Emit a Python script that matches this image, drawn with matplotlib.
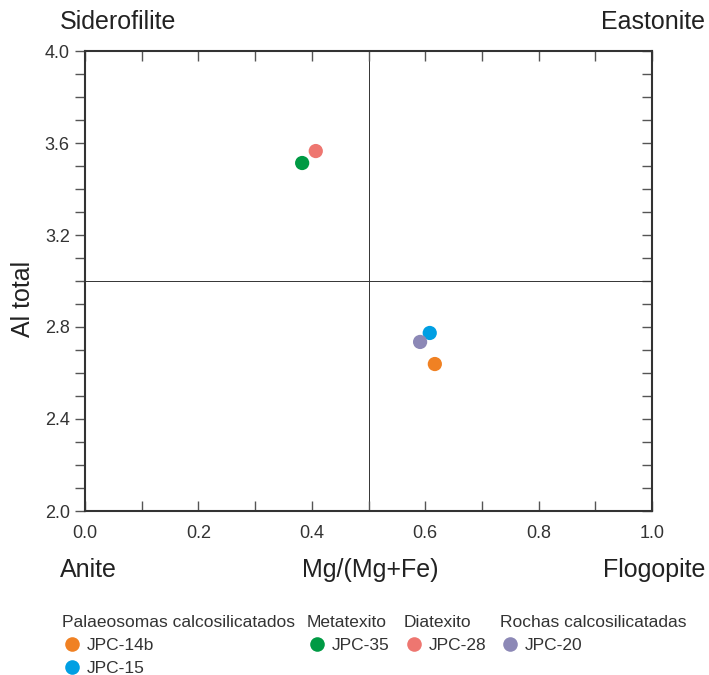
import matplotlib
matplotlib.use("Agg")
import matplotlib.pyplot as plt
from matplotlib.lines import Line2D
from matplotlib.ticker import MultipleLocator

plt.rcParams['font.family'] = ['Liberation Sans', 'DejaVu Sans']

## data
samples = ['JPC-14b', 'JPC-15', 'JPC-35', 'JPC-28', 'JPC-20']
groups = ['Palaeosomas calcosilicatados', 'Palaeosomas calcosilicatados',
          'Metatexito', 'Diatexito', 'Rochas calcosilicatadas']
mg_ratio = [0.617, 0.608, 0.383, 0.407, 0.591]
al_total = [2.639, 2.774, 3.513, 3.565, 2.735]
colours = ['#F08123', '#009FE3', '#009A44', '#EE7670', '#8C88B6']
draw_order = ['JPC-28', 'JPC-35', 'JPC-15', 'JPC-20', 'JPC-14b']
group_names = ['Palaeosomas calcosilicatados', 'Metatexito', 'Diatexito',
               'Rochas calcosilicatadas']

W, H = 709, 675
fig = plt.figure(figsize=(W / 100, H / 100), dpi=100)
ax = fig.add_axes([85 / W, 1 - 511 / H, 567 / W, 460 / H])

for name in draw_order:
    i = samples.index(name)
    ax.scatter(mg_ratio[i], al_total[i], s=105, color=colours[i],
               edgecolors='none', zorder=3, clip_on=False)

ax.axvline(0.5, color='#333333', lw=0.7, zorder=1)
ax.axhline(3.0, color='#333333', lw=0.7, zorder=1)

ax.set_xlim(0, 1)
ax.set_ylim(2.0, 4.0)
ax.xaxis.set_major_locator(MultipleLocator(0.2))
ax.xaxis.set_minor_locator(MultipleLocator(0.1))
ax.yaxis.set_major_locator(MultipleLocator(0.4))
ax.yaxis.set_minor_locator(MultipleLocator(0.1))
ax.xaxis.set_major_formatter(lambda v, p: f'{v:.1f}')
ax.yaxis.set_major_formatter(lambda v, p: f'{v:.1f}')

tick_col = '#555555'
ax.tick_params(axis='x', which='both', direction='in', top=True, bottom=True,
               length=7, width=1, color=tick_col, labelsize=13,
               labelcolor='#333333', pad=10)
ax.tick_params(axis='y', which='both', direction='out', left=True, right=False,
               length=7, width=1, color=tick_col, labelsize=13,
               labelcolor='#333333', pad=4)
# right side ticks point inward
ax_r = ax.secondary_yaxis('right')
ax_r.yaxis.set_minor_locator(MultipleLocator(0.1))
ax_r.yaxis.set_major_locator(MultipleLocator(0.4))
ax_r.tick_params(axis='y', which='both', direction='in', length=7, width=1,
                 color=tick_col, labelright=False)
ax_r.spines['right'].set_visible(False)

for sp in ax.spines.values():
    sp.set_color('#333333')
    sp.set_linewidth(1.5)

ax.set_ylabel('Al total', fontsize=18, color='#222222', va='center')
ax.yaxis.set_label_coords((23 - 85) / 567, (511 - 299) / 460)

# corner end-member names and x label
fig.text(60 / W, 1 - 22 / H, 'Siderofilite', fontsize=18, color='#222222',
         ha='left', va='center')
fig.text(705 / W, 1 - 22 / H, 'Eastonite', fontsize=18, color='#222222',
         ha='right', va='center')
fig.text(60 / W, 1 - 570 / H, 'Anite', fontsize=18, color='#222222',
         ha='left', va='center')
fig.text(705 / W, 1 - 570 / H, 'Flogopite', fontsize=18, color='#222222',
         ha='right', va='center')
fig.text(370 / W, 1 - 570 / H, 'Mg/(Mg+Fe)', fontsize=18, color='#222222',
         ha='center', va='center')

# one legend per rock group
legend_x = [62, 307, 404, 500]
for gx, gname in zip(legend_x, group_names):
    handles = [Line2D([], [], ls='none', marker='o', markersize=10.5,
                      markeredgewidth=0, color=colours[i], label=samples[i])
               for i in range(len(samples)) if groups[i] == gname]
    leg = fig.legend(handles=handles, title=gname, loc='upper left',
                     bbox_to_anchor=(gx / W, 1 - 615 / H), frameon=False,
                     fontsize=12.5, title_fontsize=12.5, alignment='left',
                     borderpad=0, borderaxespad=0, handlelength=1.15,
                     handletextpad=0.3, labelspacing=0.45)
    leg.get_title().set_color('#333333')
    for t in leg.get_texts():
        t.set_color('#333333')

fig.savefig('out.png', dpi=100)
